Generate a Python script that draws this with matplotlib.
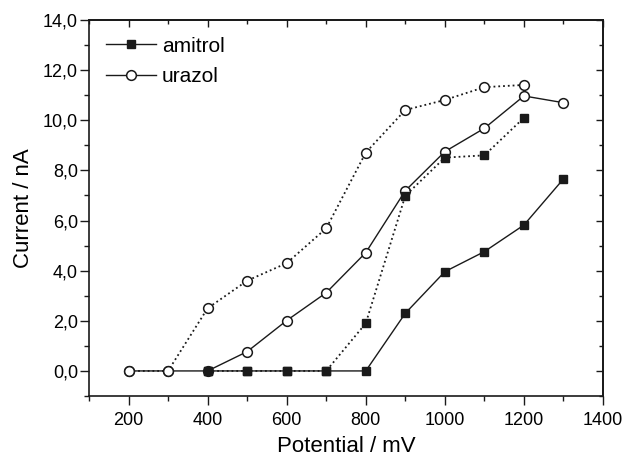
import matplotlib.pyplot as plt
from matplotlib.ticker import MultipleLocator, FuncFormatter

plt.rcParams['font.family'] = ['Liberation Sans', 'DejaVu Sans']

# amitrol, solid curve
amitrol_x = [400, 500, 600, 700, 800, 900, 1000, 1100, 1200, 1300]
amitrol_y = [0.0, 0.0, 0.0, 0.0, 0.0, 2.30, 3.96, 4.76, 5.82, 7.66]
# amitrol, dotted curve
amitrol2_x = [400, 500, 600, 700, 800, 900, 1000, 1100, 1200]
amitrol2_y = [0.0, 0.0, 0.0, 0.0, 1.90, 6.99, 8.51, 8.60, 10.10]
# urazol, solid curve
urazol_x = [200, 300, 400, 500, 600, 700, 800, 900, 1000, 1100, 1200, 1300]
urazol_y = [0.0, 0.0, 0.0, 0.77, 2.01, 3.12, 4.72, 7.19, 8.75, 9.68, 10.97, 10.70]
# urazol, dotted curve
urazol2_x = [200, 300, 400, 500, 600, 700, 800, 900, 1000, 1100, 1200]
urazol2_y = [0.0, 0.0, 2.50, 3.60, 4.30, 5.69, 8.71, 10.41, 10.81, 11.32, 11.41]

col = '#1a1a1a'

fig = plt.figure(figsize=(6.28, 4.61), dpi=100)
ax = fig.add_axes([89 / 628, 1 - 396 / 461, 514 / 628, 376 / 461])

ax.plot(urazol2_x, urazol2_y, ':', color=col, lw=1.3, marker='o', ms=7,
        mfc='white', mec=col, mew=1.1)
ax.plot(urazol_x, urazol_y, '-', color=col, lw=1.0, marker='o', ms=7,
        mfc='white', mec=col, mew=1.1, label='urazol')
ax.plot(amitrol2_x, amitrol2_y, ':', color=col, lw=1.3, marker='s', ms=6,
        mfc=col, mec=col)
ax.plot(amitrol_x, amitrol_y, '-', color=col, lw=1.0, marker='s', ms=6,
        mfc=col, mec=col, label='amitrol')

ax.set_xlim(100, 1400)
ax.set_ylim(-1, 14)
ax.xaxis.set_major_locator(MultipleLocator(200))
ax.xaxis.set_minor_locator(MultipleLocator(100))
ax.yaxis.set_major_locator(MultipleLocator(2))
ax.yaxis.set_minor_locator(MultipleLocator(1))
ax.yaxis.set_major_formatter(FuncFormatter(lambda v, p: f'{v:.1f}'.replace('.', ',')))
ax.set_xticks([200, 400, 600, 800, 1000, 1200, 1400])

ax.tick_params(which='both', direction='out', labelsize=13, color=col, width=1.0)
ax.tick_params(which='major', length=6.5)
ax.tick_params(which='minor', length=3.6)
ax.tick_params(axis='x', which='major', pad=5)
ax.tick_params(axis='y', which='major', pad=1.5)
for s in ax.spines.values():
    s.set_linewidth(1.2)
    s.set_color(col)

# mirrored inward ticks on top and right
top = ax.secondary_xaxis('top')
top.xaxis.set_major_locator(MultipleLocator(200))
top.xaxis.set_minor_locator(MultipleLocator(100))
top.tick_params(which='both', direction='in', labeltop=False, color=col, width=1.0)
top.tick_params(which='major', length=5)
top.tick_params(which='minor', length=3)
right = ax.secondary_yaxis('right')
right.yaxis.set_major_locator(MultipleLocator(2))
right.yaxis.set_minor_locator(MultipleLocator(1))
right.tick_params(which='both', direction='in', labelright=False, color=col, width=1.0)
right.tick_params(which='major', length=5)
right.tick_params(which='minor', length=3)
top.spines['top'].set_linewidth(1.2)
right.spines['right'].set_linewidth(1.2)

ax.set_xlabel('Potential / mV', fontsize=16, labelpad=5)
ax.set_ylabel('Current / nA', fontsize=16, labelpad=6)

h, l = ax.get_legend_handles_labels()
ax.legend(h[::-1], l[::-1], loc='upper left', bbox_to_anchor=(0.0, 1.0),
          frameon=False, fontsize=15, handlelength=2.4, handletextpad=0.3,
          labelspacing=0.55, borderaxespad=0.5, borderpad=0.3)

fig.savefig('out.png', dpi=100)
